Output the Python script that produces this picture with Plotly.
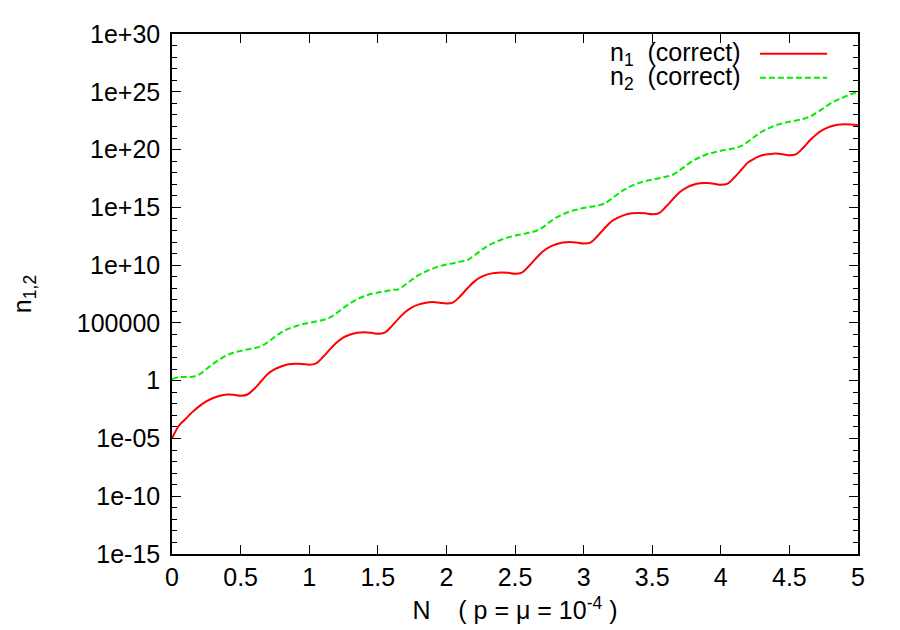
import numpy as np
import plotly.graph_objects as go

# abscissa N, read every 0.05
n_vals = [round(0.05 * i, 2) for i in range(101)]

# log10(n1)
log_n1 = [
    -5.0, -3.9, -3.3, -2.7, -2.2, -1.8, -1.5, -1.3, -1.2, -1.22,
    -1.3, -1.2, -0.7, -0.05, 0.6, 1.0, 1.25, 1.42, 1.47, 1.45,
    1.38, 1.5, 2.05, 2.7, 3.3, 3.75, 4.0, 4.15, 4.2, 4.15,
    4.05, 4.15, 4.7, 5.35, 5.95, 6.35, 6.6, 6.75, 6.8, 6.75,
    6.68, 6.78, 7.3, 7.95, 8.55, 8.95, 9.2, 9.32, 9.36, 9.33,
    9.25, 9.35, 9.9, 10.55, 11.15, 11.55, 11.8, 11.95, 12.0, 11.95,
    11.87, 11.95, 12.5, 13.15, 13.75, 14.1, 14.35, 14.48, 14.52, 14.48,
    14.4, 14.5, 15.05, 15.7, 16.3, 16.7, 16.95, 17.08, 17.1, 17.05,
    16.95, 17.05, 17.6, 18.25, 18.9, 19.25, 19.5, 19.6, 19.65, 19.6,
    19.5, 19.6, 20.15, 20.8, 21.35, 21.75, 22.0, 22.15, 22.2, 22.17,
    22.1,
]

# log10(n2)
log_n2 = [
    0.15, 0.3, 0.33, 0.33, 0.55, 1.0, 1.45, 1.85, 2.2, 2.42,
    2.58, 2.7, 2.82, 2.98, 3.35, 3.8, 4.2, 4.5, 4.7, 4.88,
    5.0, 5.12, 5.25, 5.45, 5.85, 6.3, 6.7, 7.05, 7.3, 7.5,
    7.62, 7.72, 7.85, 7.9, 8.3, 8.75, 9.15, 9.45, 9.7, 9.9,
    10.05, 10.17, 10.3, 10.42, 10.8, 11.25, 11.65, 11.95, 12.2, 12.4,
    12.55, 12.67, 12.8, 12.95, 13.25, 13.7, 14.1, 14.4, 14.65, 14.8,
    14.95, 15.05, 15.15, 15.32, 15.7, 16.15, 16.55, 16.85, 17.1, 17.27,
    17.4, 17.52, 17.65, 17.82, 18.2, 18.65, 19.05, 19.35, 19.6, 19.75,
    19.9, 20.0, 20.12, 20.32, 20.7, 21.15, 21.55, 21.85, 22.1, 22.27,
    22.4, 22.52, 22.65, 22.85, 23.2, 23.6, 24.0, 24.3, 24.55, 24.8,
    25.0,
]

x_ticks = [0, 0.5, 1, 1.5, 2, 2.5, 3, 3.5, 4, 4.5, 5]
x_labels = ["0", "0.5", "1", "1.5", "2", "2.5", "3", "3.5", "4", "4.5", "5"]
y_exps = [-15, -10, -5, 0, 5, 10, 15, 20, 25, 30]
y_labels = ["1e-15", "1e-10", "1e-05", "1", "100000", "1e+10",
            "1e+15", "1e+20", "1e+25", "1e+30"]

FONT = "Liberation Sans, Arial, sans-serif"
RED = "#ff0000"
GREEN = "#00ee00"
TICK_FONT = dict(family=FONT, size=25, color="black")
TEXT_FONT = dict(family=FONT, size=25, color="black")

fig = go.Figure()
fig.add_trace(go.Scatter(
    x=n_vals, y=np.power(10.0, log_n1), mode="lines",
    line=dict(color=RED, width=2, shape="spline", smoothing=1.0),
    showlegend=False,
))
fig.add_trace(go.Scatter(
    x=n_vals, y=np.power(10.0, log_n2), mode="lines",
    line=dict(color=GREEN, width=2, dash="6px,3px", shape="spline", smoothing=1.0),
    showlegend=False,
))

fig.update_xaxes(
    range=[0, 5], tickmode="array", tickvals=x_ticks, ticktext=x_labels,
    tickfont=TICK_FONT,
    showline=True, linecolor="black", linewidth=1.5, mirror="allticks",
    ticks="inside", tickcolor="black", ticklen=9, tickwidth=1.2,
    showgrid=False, zeroline=False,
    title=dict(text="N    ( p = \u03bc = 10<sup>-4</sup> )",
               font=TEXT_FONT, standoff=12),
)
fig.update_yaxes(
    type="log", range=[-15, 30], tickmode="array",
    tickvals=[10.0 ** e for e in y_exps], ticktext=y_labels,
    tickfont=TICK_FONT, ticklabelstandoff=5,
    showline=True, linecolor="black", linewidth=1.5, mirror="allticks",
    ticks="inside", tickcolor="black", ticklen=9, tickwidth=1.2,
    showgrid=False, zeroline=False,
    minor=dict(tickmode="array", tickvals=[10.0 ** e for e in range(-15, 31)],
               ticks="inside", ticklen=5, tickcolor="black", tickwidth=1.2),
    title=dict(text="n<sub>1,2</sub>", font=TEXT_FONT, standoff=39),
)

# gnuplot-style key: text, then line sample on the right
legend_rows = [("n<sub>1</sub>  (correct)", RED, "solid", 0.962),
               ("n<sub>2</sub>  (correct)", GREEN, "6px,3px", 0.916)]
for text, color, dash, yy in legend_rows:
    fig.add_annotation(
        x=0.832, y=yy, xref="paper", yref="paper", text=text,
        showarrow=False, xanchor="right", yanchor="middle", font=TEXT_FONT,
    )
    fig.add_shape(
        type="line", xref="paper", yref="paper",
        x0=0.857, x1=0.955, y0=yy, y1=yy,
        line=dict(color=color, width=2, dash=dash),
    )

fig.update_layout(
    width=900, height=630,
    margin=dict(l=164, r=50, t=22, b=84),
    paper_bgcolor="white", plot_bgcolor="white",
    font=TEXT_FONT,
)

fig.write_html("out.html")
